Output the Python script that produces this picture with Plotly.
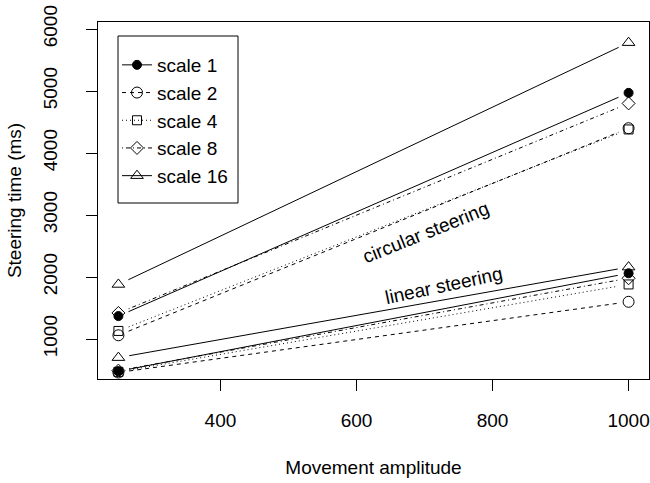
import plotly.graph_objects as go

amplitudes = [250, 1000]
scales = ["scale 1", "scale 2", "scale 4", "scale 8", "scale 16"]

circular_250 = [1370, 1060, 1130, 1420, 1880]
circular_1000 = [4970, 4400, 4380, 4800, 5780]
linear_250 = [480, 460, 470, 490, 700]
linear_1000 = [2060, 1600, 1880, 1980, 2160]

symbols = ["circle", "circle-open", "square-open", "diamond-open", "triangle-up-open"]
msizes = [9, 11, 9, 10, 11]
dashes = ["solid", "4px,4px", "1px,3px", "1px,3px,4px,3px", "solid"]

W, H = 650, 483
ML, MR, MT, MB = 98, 1, 22, 104
XR = [220, 1030]
YR = [355, 6113]
PW, PH = W - ML - MR, H - MT - MB
pxx = PW / (XR[1] - XR[0])
pxy = PH / (YR[1] - YR[0])
GAP = 11  # px gap between points and line (R type "b")

FONT = "Liberation Sans, Arial, sans-serif"
FS = 19

fig = go.Figure()


def add_series(i, y0, y1, show):
    x0, x1 = amplitudes
    dxp = (x1 - x0) * pxx
    dyp = (y1 - y0) * pxy
    L = (dxp ** 2 + dyp ** 2) ** 0.5
    f = GAP / L
    xa, ya = x0 + f * (x1 - x0), y0 + f * (y1 - y0)
    xb, yb = x1 - f * (x1 - x0), y1 - f * (y1 - y0)
    clear = "rgba(0,0,0,0)"
    cols = ["black", "black", clear, clear, "black", "black"]
    fig.add_trace(go.Scatter(
        x=[x0, None, xa, xb, None, x1],
        y=[y0, None, ya, yb, None, y1],
        mode="lines+markers",
        name=scales[i],
        legendgroup=scales[i],
        showlegend=show,
        line=dict(color="black", width=1, dash=dashes[i]),
        marker=dict(symbol=symbols[i], size=msizes[i], color=cols,
                    line=dict(width=1, color=cols)),
        hoverinfo="skip",
    ))


for i in range(5):
    add_series(i, circular_250[i], circular_1000[i], True)
for i in range(5):
    add_series(i, linear_250[i], linear_1000[i], False)

fig.add_annotation(x=702, y=2710, text="circular steering", showarrow=False,
                   textangle=-22, font=dict(family=FONT, size=FS, color="black"))
fig.add_annotation(x=728, y=1871, text="linear steering", showarrow=False,
                   textangle=-12, font=dict(family=FONT, size=FS, color="black"))


def px_to_paper_x(p):
    return (p - ML) / PW


def px_to_paper_y(p):
    return (H - MB - p) / PH


# legend frame (R legend box)
fig.add_shape(type="rect", xref="paper", yref="paper",
              x0=px_to_paper_x(118), x1=px_to_paper_x(238),
              y0=px_to_paper_y(203), y1=px_to_paper_y(36),
              line=dict(color="black", width=1), fillcolor="rgba(0,0,0,0)")

fig.update_layout(
    width=W, height=H,
    margin=dict(l=ML, r=MR, t=MT, b=MB, autoexpand=False),
    paper_bgcolor="white", plot_bgcolor="white",
    font=dict(family=FONT, size=FS, color="black"),
    showlegend=True,
    legend=dict(x=px_to_paper_x(117), y=px_to_paper_y(46), xanchor="left", yanchor="top",
                borderwidth=0, bgcolor="rgba(0,0,0,0)",
                font=dict(family=FONT, size=FS, color="black"),
                tracegroupgap=0, itemwidth=30),
)
fig.update_xaxes(range=XR, tickvals=[400, 600, 800, 1000], ticks="outside", ticklen=11,
                 tickcolor="black", showline=True, linecolor="black", linewidth=1,
                 mirror=True, showgrid=False, zeroline=False, automargin=False,
                 ticklabelstandoff=13,
                 title=dict(text="Movement amplitude", standoff=30, font=dict(size=FS)),
                 tickfont=dict(size=FS))
fig.update_yaxes(range=YR, tickvals=[1000, 2000, 3000, 4000, 5000, 6000], ticks="outside",
                 ticklen=11, tickcolor="black", showline=True, linecolor="black", linewidth=1,
                 mirror=True, showgrid=False, zeroline=False, tickangle=-90, automargin=False,
                 ticklabelstandoff=21,
                 title=dict(text="Steering time (ms)", standoff=13, font=dict(size=FS)),
                 tickfont=dict(size=FS))

fig.write_html("out.html", config={"displayModeBar": False},
               post_script="document.body.style.margin='0px';")
